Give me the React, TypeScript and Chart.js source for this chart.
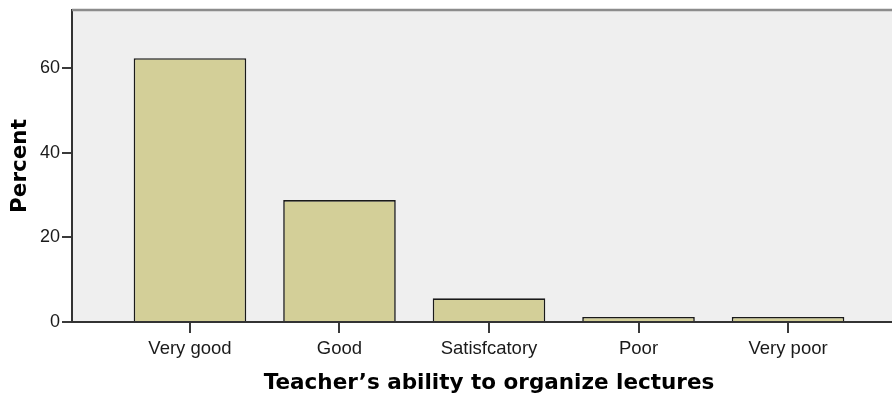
import React, { useEffect, useRef } from "react";
import { Chart, registerables } from "chart.js";

Chart.register(...registerables);

const categories = ["Very good", "Good", "Satisfcatory", "Poor", "Very poor"];
const percents = [62.3, 28.8, 5.6, 1.2, 1.2];
const yTickValues = [0, 20, 40, 60];
const yMax = 73.7;
const xTitle = "Teacher\u2019s ability to organize lectures";
const yTitle = "Percent";

export default function App() {
  const ref = useRef<HTMLCanvasElement>(null);

  useEffect(() => {
    if (!ref.current) return;

    const framePlugin = {
      id: "frame",
      beforeDraw(chart: any) {
        const { ctx, chartArea: a } = chart;
        ctx.save();
        ctx.fillStyle = "#efefef";
        ctx.fillRect(a.left, a.top, a.right - a.left, a.bottom - a.top);
        ctx.restore();
      },
      afterDraw(chart: any) {
        const { ctx, chartArea: a } = chart;
        ctx.save();
        ctx.strokeStyle = "#8c8c8c";
        ctx.lineWidth = 2.5;
        ctx.beginPath();
        ctx.moveTo(a.left, a.top);
        ctx.lineTo(a.right, a.top);
        ctx.stroke();
        ctx.restore();
      },
    };

    const chart = new Chart(ref.current, {
      type: "bar",
      data: {
        datasets: [
          {
            data: percents.map((v, i) => ({ x: i, y: v })),
            backgroundColor: "#d3cf98",
            borderColor: "#1a1a1a",
            borderWidth: 1.6,
            categoryPercentage: 1,
            barPercentage: 0.753,
          },
        ],
      },
      options: {
        responsive: false,
        animation: false,
        events: [],
        layout: { padding: { top: 10, left: 0, right: 0, bottom: 0 } },
        plugins: {
          legend: { display: false },
          tooltip: { enabled: false },
        },
        scales: {
          x: {
            type: "linear",
            min: -0.789,
            max: 4.789,
            offset: false,
            afterBuildTicks: (axis: any) => {
              axis.ticks = categories.map((_, i) => ({ value: i }));
            },
            afterFit: (axis: any) => {
              axis.height = 78;
              axis.paddingLeft = 0;
              axis.paddingRight = 0;
            },
            grid: {
              offset: false,
              drawOnChartArea: false,
              drawTicks: true,
              tickLength: 11,
              color: "#3a3a3a",
              lineWidth: 2,
            },
            border: { display: true, color: "#333333", width: 2 },
            ticks: {
              autoSkip: false,
              maxRotation: 0,
              padding: 5,
              color: "#1a1a1a",
              font: { family: "'Liberation Sans', Arial, sans-serif", size: 18.5 },
              callback: (v: any) => categories[Math.round(Number(v))] ?? "",
            },
            title: {
              display: true,
              text: xTitle,
              color: "#000000",
              font: { family: "'DejaVu Sans', sans-serif", size: 21.5, weight: "bold" },
              padding: { top: 0, bottom: 4 },
            },
          },
          y: {
            type: "linear",
            min: 0,
            max: yMax,
            afterBuildTicks: (axis: any) => {
              axis.ticks = yTickValues.map((v) => ({ value: v }));
            },
            afterFit: (axis: any) => {
              axis.width = 72;
              axis.paddingTop = 0;
              axis.paddingBottom = 0;
            },
            grid: {
              drawOnChartArea: false,
              drawTicks: true,
              tickLength: 10,
              color: "#3a3a3a",
              lineWidth: 2,
            },
            border: { display: true, color: "#333333", width: 2 },
            ticks: {
              padding: 2,
              color: "#1a1a1a",
              font: { family: "'Liberation Sans', Arial, sans-serif", size: 18 },
            },
            title: {
              display: true,
              text: yTitle,
              color: "#000000",
              font: { family: "'DejaVu Sans', sans-serif", size: 21.5, weight: "bold" },
              padding: { top: 8, bottom: 0 },
            },
          },
        },
      },
      plugins: [framePlugin],
    });

    return () => chart.destroy();
  }, []);

  return (
    <div
      style={{
        position: "fixed",
        left: 0,
        top: 0,
        width: 892,
        height: 400,
        overflow: "hidden",
        background: "#ffffff",
      }}
    >
      <canvas ref={ref} width={906} height={400} style={{ display: "block", width: 906, height: 400 }} />
    </div>
  );
}
